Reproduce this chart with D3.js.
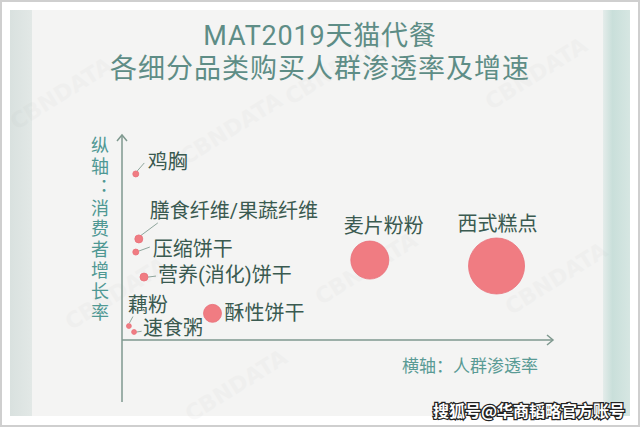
<!DOCTYPE html>
<html><head><meta charset="utf-8">
<script src="https://cdn.jsdelivr.net/npm/d3@7"></script>
<style>html,body{margin:0;padding:0;background:#fff;}svg{display:block;}</style>
</head><body>
<svg id="c" width="640" height="427"></svg>
<script>
// ---- data ----
const categories = ["鸡胸","膳食纤维/果蔬纤维","压缩饼干","营养(消化)饼干","藕粉","速食粥","酥性饼干","麦片粉粉","西式糕点"];
const penetration = [3.2, 3.9, 3.2, 5.1, 1.6, 2.8, 21.0, 57.5, 86.9];
const growth = [81, 49.3, 42.9, 30.7, 6.8, 3.9, 13.0, 39, 36.1];
const sizeValues = [9, 16, 9, 16, 6, 6, 81, 361, 784];
const titleLines = ["MAT2019天猫代餐", "各细分品类购买人群渗透率及增速"];
const yAxisLabel = "纵轴：消费者增长率";
const xAxisLabel = "横轴：人群渗透率";
const sourceMark = "搜狐号@华商韬略官方账号";

const svg = d3.select("#c");
const FONT = "'Noto Sans CJK SC','Noto Sans',sans-serif";
const FONT_TIGHT = "Roboto,'Noto Sans CJK SC',sans-serif";

// frame
svg.append("rect").attr("x",1).attr("y",1).attr("width",638).attr("height",425).attr("fill","#fff").attr("stroke","#cfcfcf").attr("stroke-width",2);
const defs = svg.append("defs");
const gl = defs.append("linearGradient").attr("id","gl");
gl.append("stop").attr("offset","0").attr("stop-color","#d9e1df");
gl.append("stop").attr("offset","1").attr("stop-color","#e2e8e6");
const gr = defs.append("linearGradient").attr("id","gr");
gr.append("stop").attr("offset","0").attr("stop-color","#e4ecea");
gr.append("stop").attr("offset","0.35").attr("stop-color","#c9dfda");
gr.append("stop").attr("offset","1").attr("stop-color","#d6e6e2");
svg.append("rect").attr("x",10).attr("y",10).attr("width",620).attr("height",406).attr("fill","#f4f4f3");
svg.append("rect").attr("x",10).attr("y",10).attr("width",22).attr("height",406).attr("fill","url(#gl)");
svg.append("rect").attr("x",603).attr("y",10).attr("width",27).attr("height",406).attr("fill","url(#gr)");

// faint watermarks
const wm = [[65,100],[235,135],[370,275],[560,285],[120,300],[340,75],[540,80],[240,392]];
svg.append("g").selectAll("text").data(wm).join("text")
  .attr("transform",d=>`translate(${d[0]},${d[1]}) rotate(-32)`)
  .attr("text-anchor","middle").attr("font-family","DejaVu Sans, sans-serif").attr("font-weight","bold")
  .attr("font-size",22).attr("fill","#9aa0a0").attr("opacity",0.05).text("CBNDATA");

// title
svg.append("g").selectAll("text").data(titleLines).join("text")
  .attr("x",320).attr("y",(d,i)=>36+i*33).attr("text-anchor","middle").attr("dominant-baseline","central")
  .attr("font-family",FONT_TIGHT).attr("font-weight",400).attr("font-size",27)
  .attr("letter-spacing",(d,i)=>i===0?0.8:1).attr("fill","#5e8d86").text(d=>d);

// scales
const x = d3.scaleLinear().domain([0,100]).range([122,553]);
const y = d3.scaleLinear().domain([0,100]).range([340,135]);
const r = d3.scaleSqrt().domain([0,784]).range([0,28]);

// axes
const axisColor = "#7f998f";
const ax = svg.append("g").attr("stroke",axisColor).attr("stroke-width",1.5).attr("fill","none");
ax.append("line").attr("x1",x(0)).attr("x2",x(0)).attr("y1",y(100)).attr("y2",402);
ax.append("line").attr("x1",x(0)).attr("x2",x(100)).attr("y1",y(0)).attr("y2",y(0));
ax.append("path").attr("d",`M${x(0)-5},${y(100)+6}L${x(0)},${y(100)}L${x(0)+5},${y(100)+6}`);
ax.append("path").attr("d",`M${x(100)-6},${y(0)-5}L${x(100)},${y(0)}L${x(100)-6},${y(0)+5}`);

// axis labels
svg.append("text").attr("x",100).attr("y",136)
  .style("writing-mode","vertical-rl").style("text-orientation","upright").style("letter-spacing","2.9px")
  .attr("font-family",FONT).attr("font-size",18).attr("fill","#4f9893").text(yAxisLabel);
svg.append("text").attr("x",402).attr("y",364).attr("dominant-baseline","central")
  .attr("font-family",FONT).attr("font-size",17).attr("fill","#5a9b95").text(xAxisLabel);

// label layout (pixel offsets from each point): text start dx, center dy, leader line [x1,y1,x2,y2] offsets
const layout = [
  {dx:12, dy:-12, lead:[1.5,-3,8.5,-11]},
  {dx:11, dy:-28, lead:[1.5,-3,19,-16]},
  {dx:17, dy:-3.5, lead:[3,-1,14,-5]},
  {dx:14, dy:-2, lead:[4,0,12,-1]},
  {dx:-1, dy:-21, lead:[0.5,-3,4,-9.5]},
  {dx:9, dy:-4, lead:[2.5,0,7.5,-0.7]},
  {dx:12, dy:0, lead:null},
  {dx:-26, dy:-34, lead:null},
  {dx:-39, dy:-42, lead:null}
];
const pts = categories.map((c,i)=>({c, px:x(penetration[i]), py:y(growth[i]), rr:r(sizeValues[i]), L:layout[i]}));

svg.append("g").attr("stroke","#8fa69d").attr("stroke-width",1)
  .selectAll("line").data(pts.filter(p=>p.L.lead)).join("line")
  .attr("x1",p=>p.px+p.L.lead[0]).attr("y1",p=>p.py+p.L.lead[1])
  .attr("x2",p=>p.px+p.L.lead[2]).attr("y2",p=>p.py+p.L.lead[3]);

svg.append("g").selectAll("circle").data(pts).join("circle")
  .attr("cx",p=>p.px).attr("cy",p=>p.py).attr("r",p=>p.rr)
  .attr("fill","#f07c82").attr("stroke","#e8707a").attr("stroke-width",0.8);

svg.append("g").selectAll("text").data(pts).join("text")
  .attr("x",p=>p.px+p.L.dx).attr("y",p=>p.py+p.L.dy).attr("dominant-baseline","central")
  .attr("font-family",FONT_TIGHT).attr("font-size",20).attr("fill","#3a5a50").text(p=>p.c);

// source watermark
svg.append("text").attr("x",625).attr("y",410).attr("text-anchor","end").attr("dominant-baseline","central")
  .attr("font-family",FONT).attr("font-weight","bold").attr("font-size",16)
  .attr("fill","#fff").attr("stroke","#222").attr("stroke-width",2.5).attr("paint-order","stroke")
  .text(sourceMark);
</script>
</body></html>
